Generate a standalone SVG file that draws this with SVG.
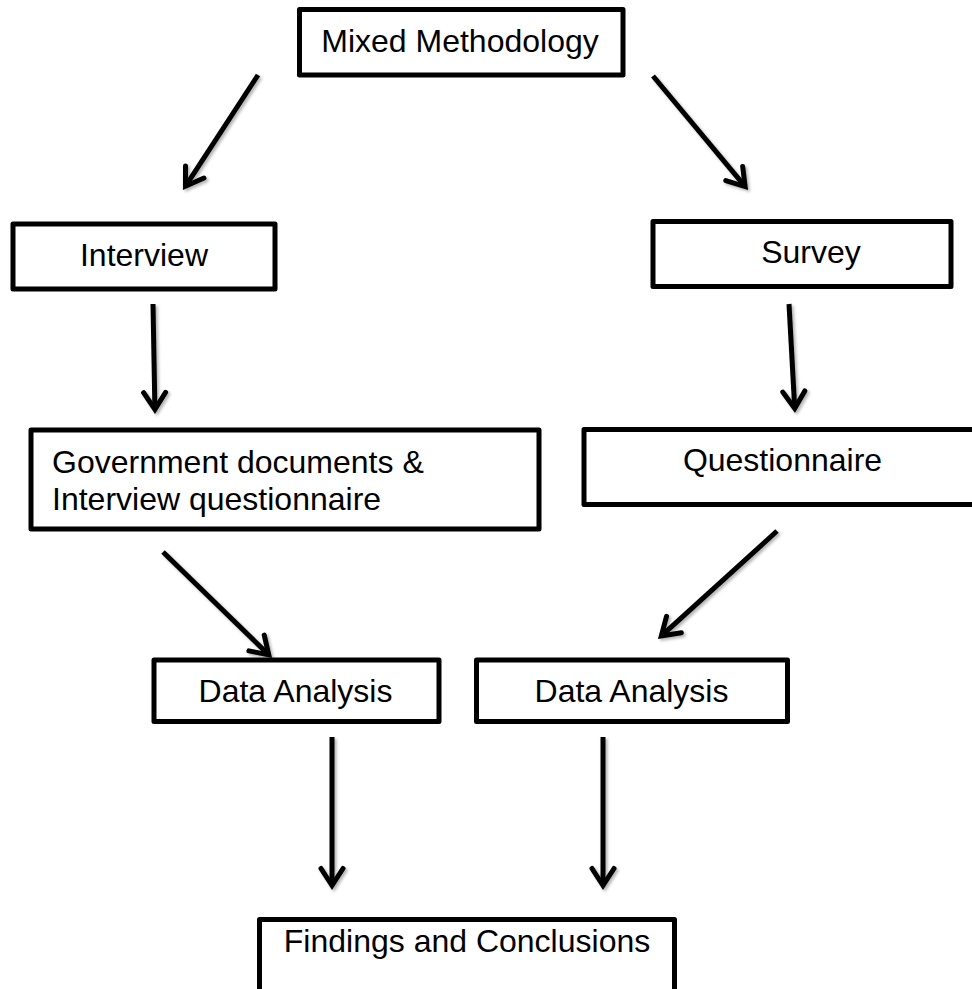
<svg xmlns="http://www.w3.org/2000/svg" width="972" height="989" viewBox="0 0 972 989">
  <style>
    .box { fill: #ffffff; stroke: #000000; stroke-width: 5; stroke-linejoin: round; }
    .lbl { font-family: "Liberation Sans", Arial, sans-serif; font-size: 32px; fill: #000000; }
    .mid { text-anchor: middle; }
    .conn { stroke: #000000; stroke-width: 5; fill: none; stroke-linecap: butt; }
  </style>
  <defs>
    <filter id="shadow" x="-20%" y="-20%" width="140%" height="140%">
      <feDropShadow dx="2" dy="2" stdDeviation="1.8" flood-color="#000000" flood-opacity="0.3"/>
    </filter>
    <marker id="arrow" markerUnits="userSpaceOnUse" orient="auto" markerWidth="40" markerHeight="40" refX="0" refY="0" overflow="visible">
      <path d="M-16.5,-11 L0.5,0 L-16.5,11" fill="none" stroke="#000000" stroke-width="5" stroke-linejoin="miter" stroke-linecap="round"/>
    </marker>
  </defs>
  <rect width="972" height="989" fill="#ffffff"/>

  <g id="connectors" filter="url(#shadow)">
    <line class="conn" x1="258" y1="75" x2="185.7" y2="185.8" marker-end="url(#arrow)"/>
    <line class="conn" x1="653" y1="76" x2="744.8" y2="186.2" marker-end="url(#arrow)"/>
    <line class="conn" x1="153" y1="304" x2="154.9" y2="409" marker-end="url(#arrow)"/>
    <line class="conn" x1="789" y1="304" x2="794.7" y2="408" marker-end="url(#arrow)"/>
    <line class="conn" x1="163" y1="552" x2="268.4" y2="654.5" marker-end="url(#arrow)"/>
    <line class="conn" x1="777" y1="531" x2="661.7" y2="635.6" marker-end="url(#arrow)"/>
    <line class="conn" x1="332" y1="737" x2="332" y2="885" marker-end="url(#arrow)"/>
    <line class="conn" x1="603" y1="737" x2="603" y2="885" marker-end="url(#arrow)"/>
  </g>

  <g id="mixed-methodology">
    <rect class="box" x="299.5" y="9.5" width="323.5" height="65.5"/>
    <text class="lbl mid" x="460" y="52">Mixed Methodology</text>
  </g>

  <g id="interview">
    <rect class="box" x="13" y="224" width="262" height="65"/>
    <text class="lbl mid" x="144" y="266">Interview</text>
  </g>

  <g id="survey">
    <rect class="box" x="653" y="221.5" width="298" height="65"/>
    <text class="lbl mid" x="811" y="263">Survey</text>
  </g>

  <g id="gov-docs">
    <rect class="box" x="31" y="430" width="508" height="99"/>
    <text class="lbl" x="52" y="473">Government documents &amp;</text>
    <text class="lbl" x="52" y="510">Interview questionnaire</text>
  </g>

  <g id="questionnaire">
    <rect class="box" x="584" y="429.5" width="400" height="75"/>
    <text class="lbl mid" x="782.5" y="471">Questionnaire</text>
  </g>

  <g id="data-analysis-left">
    <rect class="box" x="154" y="660" width="285" height="61.5"/>
    <text class="lbl mid" x="295.5" y="701.5">Data Analysis</text>
  </g>

  <g id="data-analysis-right">
    <rect class="box" x="476.5" y="660" width="311" height="61.5"/>
    <text class="lbl mid" x="631.5" y="701.5">Data Analysis</text>
  </g>

  <g id="findings">
    <rect class="box" x="259.5" y="919.5" width="415" height="80"/>
    <text class="lbl mid" x="467" y="951.5">Findings and Conclusions</text>
  </g>
</svg>
